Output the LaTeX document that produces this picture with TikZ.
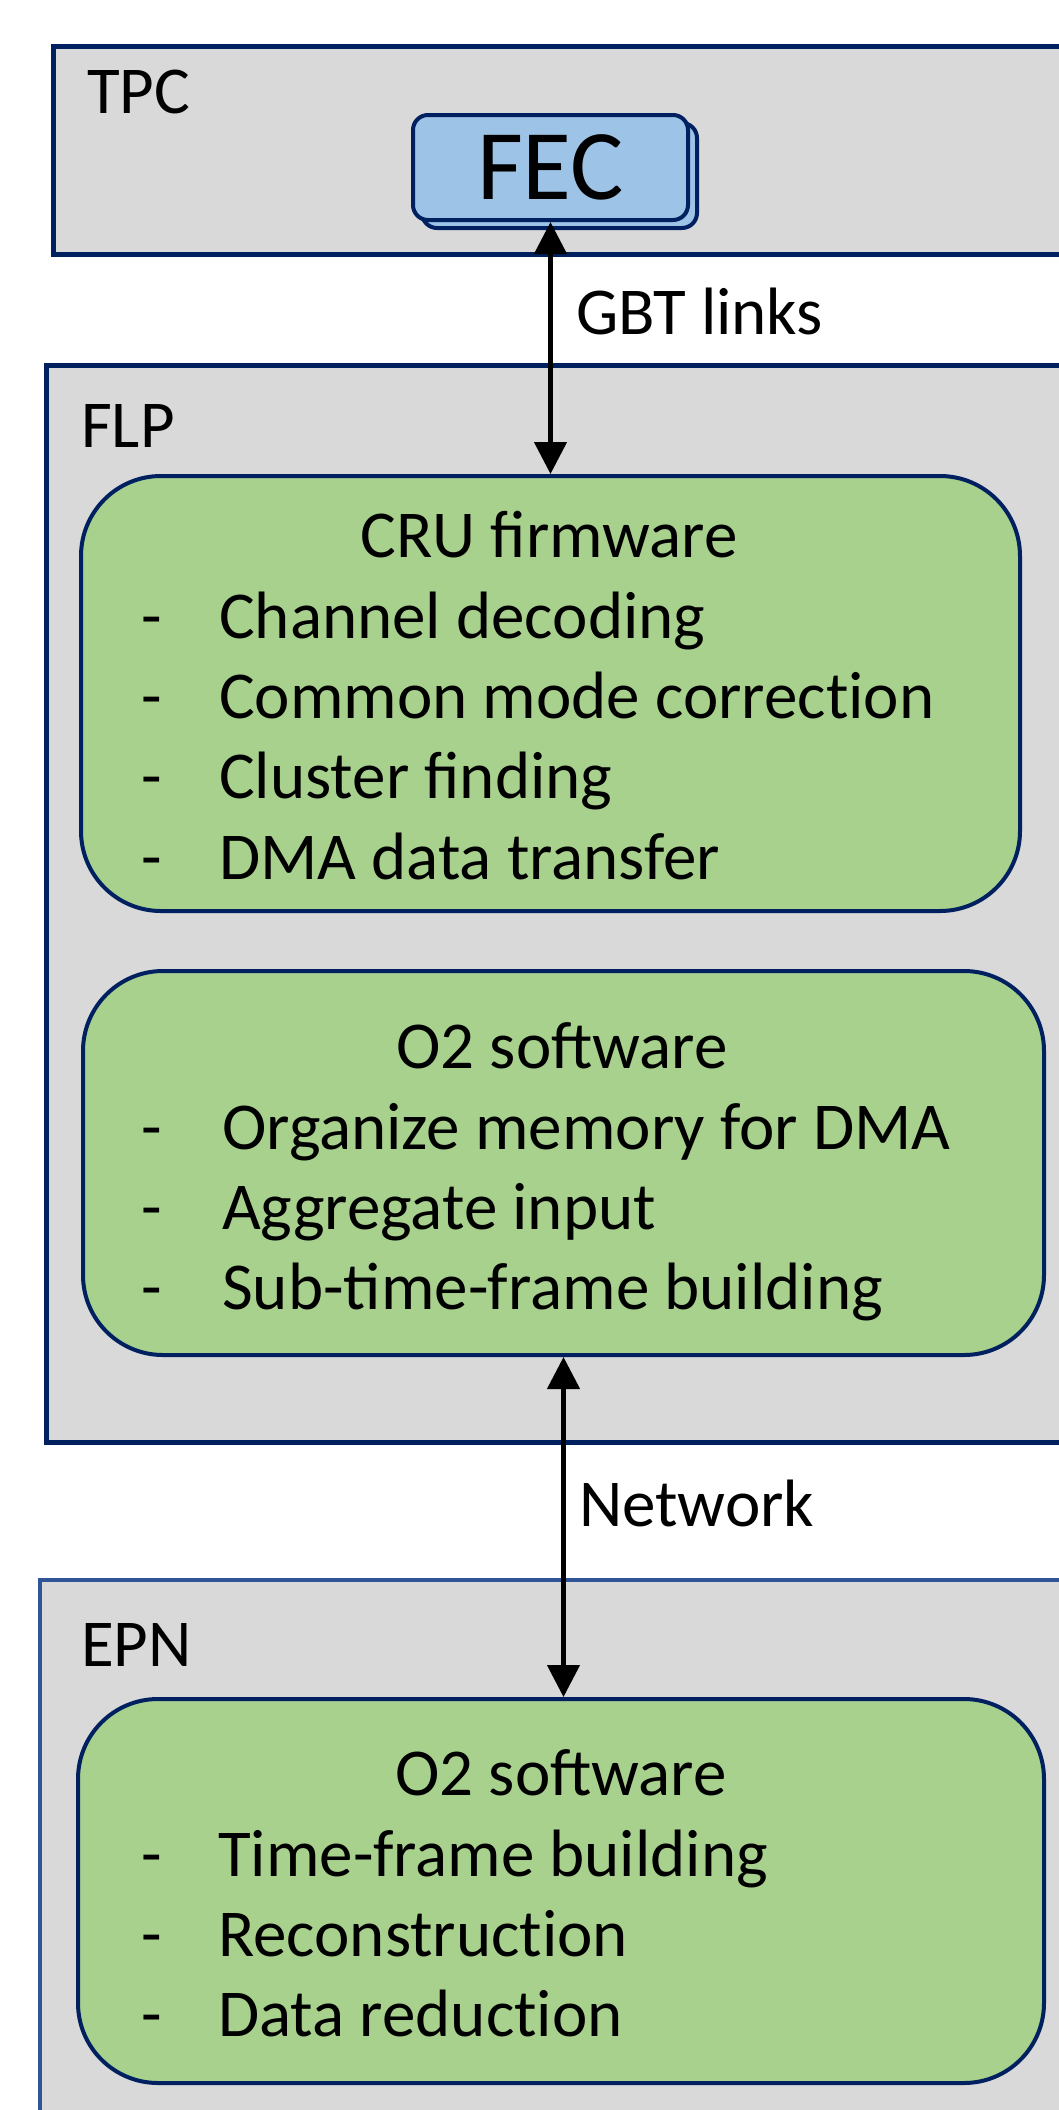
\documentclass[tikz,border=0pt]{standalone}
\usepackage{fontspec}
\setmainfont{Carlito}
\usetikzlibrary{arrows.meta}
\definecolor{navy}{HTML}{002060}
\definecolor{epnline}{HTML}{2F5597}
\definecolor{panel}{HTML}{D9D9D9}
\definecolor{taskgreen}{HTML}{A9D18E}
\definecolor{fecblue}{HTML}{9DC3E6}
% keep "t" and "i" apart where no ligature is wanted
\newcommand{\nolig}{\kern0pt}
\begin{document}
\begin{tikzpicture}[x=1pt,y=-1pt,
  container/.style={draw=navy, line width=4.5pt, fill=panel, minimum width=1100pt, inner sep=0pt, anchor=north west},
  taskbox/.style={draw=navy, line width=4pt, fill=taskgreen, rounded corners=80pt, inner sep=0pt},
  fecbox/.style={draw=navy, line width=4pt, fill=fecblue, rounded corners=15pt, inner sep=0pt,
    minimum width=275pt, minimum height=105pt},
  txt/.style={font=\fontsize{67}{80}\selectfont, inner sep=0pt, anchor=base west},
  ttl/.style={font=\fontsize{67}{80}\selectfont, inner sep=0pt, anchor=base},
  bullet/.style={font=\fontsize{67}{80}\selectfont, inner sep=0pt, anchor=base},
  link/.style={{Triangle[length=32pt,width=32pt]}-{Triangle[length=32pt,width=32pt]}, line width=4.5pt, black}]
\useasboundingbox (0,0) rectangle (1059,2110);
\clip (0,0) rectangle (1059,2110);
\fill[white] (0,0) rectangle (1059,2110);

% outer containers
\node[container, minimum height=208pt] (tpc) at (51,44) {};
\node[container, minimum height=1077pt] (flp) at (44,363) {};
\node[container, draw=epnline, line width=3.5pt, minimum height=600pt] (epn) at (38,1578) {};

\node[txt] (tpclbl) at (87,113) {TPC};
\node[txt] (flplbl) at (81,447) {FLP};
\node[txt] (epnlbl) at (81,1666) {EPN};

% front-end cards
\node[fecbox] (fecback) at (559.5,175.5) {};
\node[fecbox, font=\fontsize{100}{120}\selectfont] (fec) at (550.5,167.5) {FEC};

% CRU firmware
\node[taskbox, minimum width=939pt, minimum height=435pt] (cru) at (550.5,693.5) {};
\node[ttl] (cruttl) at (549,557) {CRU firmware};
\node[bullet] (cb1) at (152,638) {-};
\node[txt] (ci1) at (219,638) {Channel decoding};
\node[bullet] (cb2) at (152,718) {-};
\node[txt] (ci2) at (219,718) {Common mode correct\nolig ion};
\node[bullet] (cb3) at (152,798) {-};
\node[txt] (ci3) at (219,798) {Cluster finding};
\node[bullet] (cb4) at (152,879) {-};
\node[txt] (ci4) at (219,879) {DMA data transfer};

% O2 software on the FLP
\node[taskbox, minimum width=961pt, minimum height=384pt] (o2flp) at (563.5,1163) {};
\node[ttl] (o2fttl) at (562,1068) {O2 software};
\node[bullet] (fb1) at (152,1149) {-};
\node[txt] (fi1) at (222,1149) {Organize memory for DMA};
\node[bullet] (fb2) at (152,1229) {-};
\node[txt] (fi2) at (222,1229) {Aggregate input};
\node[bullet] (fb3) at (152,1309) {-};
\node[txt] (fi3) at (222,1309) {Sub-time-frame building};

% O2 software on the EPN
\node[taskbox, minimum width=966pt, minimum height=384pt] (o2epn) at (561,1891) {};
\node[ttl] (o2ettl) at (561,1795) {O2 software};
\node[bullet] (eb1) at (152,1876) {-};
\node[txt] (ei1) at (218,1876) {Time-frame building};
\node[bullet] (eb2) at (152,1956) {-};
\node[txt] (ei2) at (218,1956) {Reconstruct\nolig ion};
\node[bullet] (eb3) at (152,2036) {-};
\node[txt] (ei3) at (218,2036) {Data reduct\nolig ion};

% links
\draw[link] (fec.south) -- (cru.north);
\node[txt] (gbt) at (576,334) {GBT links};
\draw[link] (o2flp.south) -- (o2flp.south |- o2epn.north);
\node[txt] (net) at (579,1526) {Network};
\end{tikzpicture}
\end{document}
